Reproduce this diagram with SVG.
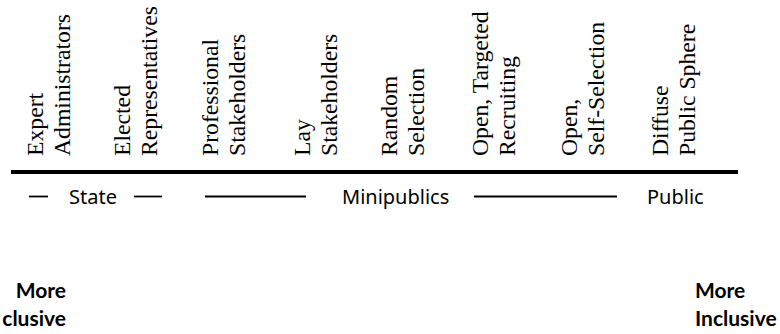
<svg xmlns="http://www.w3.org/2000/svg" width="780" height="334" viewBox="0 0 780 334">
<style>
.v{font-family:"Liberation Serif","Times New Roman",serif;font-size:23px;fill:#000}
.s{font-family:"Noto Sans","Open Sans",sans-serif;font-size:20px;fill:#000}
.b{font-family:Lato,"Noto Sans",sans-serif;font-size:21px;font-weight:bold;fill:#000}
.d{stroke:#000;stroke-width:1.8}
</style>
<rect width="780" height="334" fill="#fff"/>
<g id="expert-administrators" class="v">
<text transform="translate(43,156) rotate(-90) scale(1.03,1)">Expert</text>
<text transform="translate(70,156) rotate(-90) scale(1.03,1)">Administrators</text>
</g>
<g id="elected-representatives" class="v">
<text transform="translate(130,156) rotate(-90) scale(1.03,1)">Elected</text>
<text transform="translate(157,156) rotate(-90) scale(1.03,1)">Representatives</text>
</g>
<g id="professional-stakeholders" class="v">
<text transform="translate(218,156) rotate(-90) scale(1.03,1)">Professional</text>
<text transform="translate(245,156) rotate(-90) scale(1.03,1)">Stakeholders</text>
</g>
<g id="lay-stakeholders" class="v">
<text transform="translate(310,156) rotate(-90) scale(1.03,1)">Lay</text>
<text transform="translate(337,156) rotate(-90) scale(1.03,1)">Stakeholders</text>
</g>
<g id="random-selection" class="v">
<text transform="translate(397,156) rotate(-90) scale(1.03,1)">Random</text>
<text transform="translate(424,156) rotate(-90) scale(1.03,1)">Selection</text>
</g>
<g id="open-targeted-recruiting" class="v">
<text transform="translate(488,156) rotate(-90) scale(1.03,1)">Open, Targeted</text>
<text transform="translate(515,156) rotate(-90) scale(1.03,1)">Recruiting</text>
</g>
<g id="open-self-selection" class="v">
<text transform="translate(577,156) rotate(-90) scale(1.03,1)">Open,</text>
<text transform="translate(604,156) rotate(-90) scale(1.03,1)">Self-Selection</text>
</g>
<g id="diffuse-public-sphere" class="v">
<text transform="translate(668,156) rotate(-90) scale(1.03,1)">Diffuse</text>
<text transform="translate(695,156) rotate(-90) scale(1.03,1)">Public Sphere</text>
</g>
<g id="connectors">
<line x1="11" y1="172" x2="738" y2="172" stroke="#000" stroke-width="4"/>
<line class="d" x1="29" y1="196.5" x2="48" y2="196.5"/>
<line class="d" x1="134" y1="196.5" x2="162" y2="196.5"/>
<line class="d" x1="205" y1="196.5" x2="306" y2="196.5"/>
<line class="d" x1="474" y1="196.5" x2="617" y2="196.5"/>
</g>
<g id="state"><text class="s" x="69" y="204">State</text></g>
<g id="minipublics"><text class="s" x="342" y="204">Minipublics</text></g>
<g id="public"><text class="s" x="647" y="204">Public</text></g>
<g id="more-exclusive" class="b">
<text x="66" y="298" text-anchor="end">More</text>
<text x="66" y="326" text-anchor="end">clusive</text>
</g>
<g id="more-inclusive" class="b">
<text x="695" y="298">More</text>
<text x="695" y="326">Inclusive</text>
</g>
</svg>
